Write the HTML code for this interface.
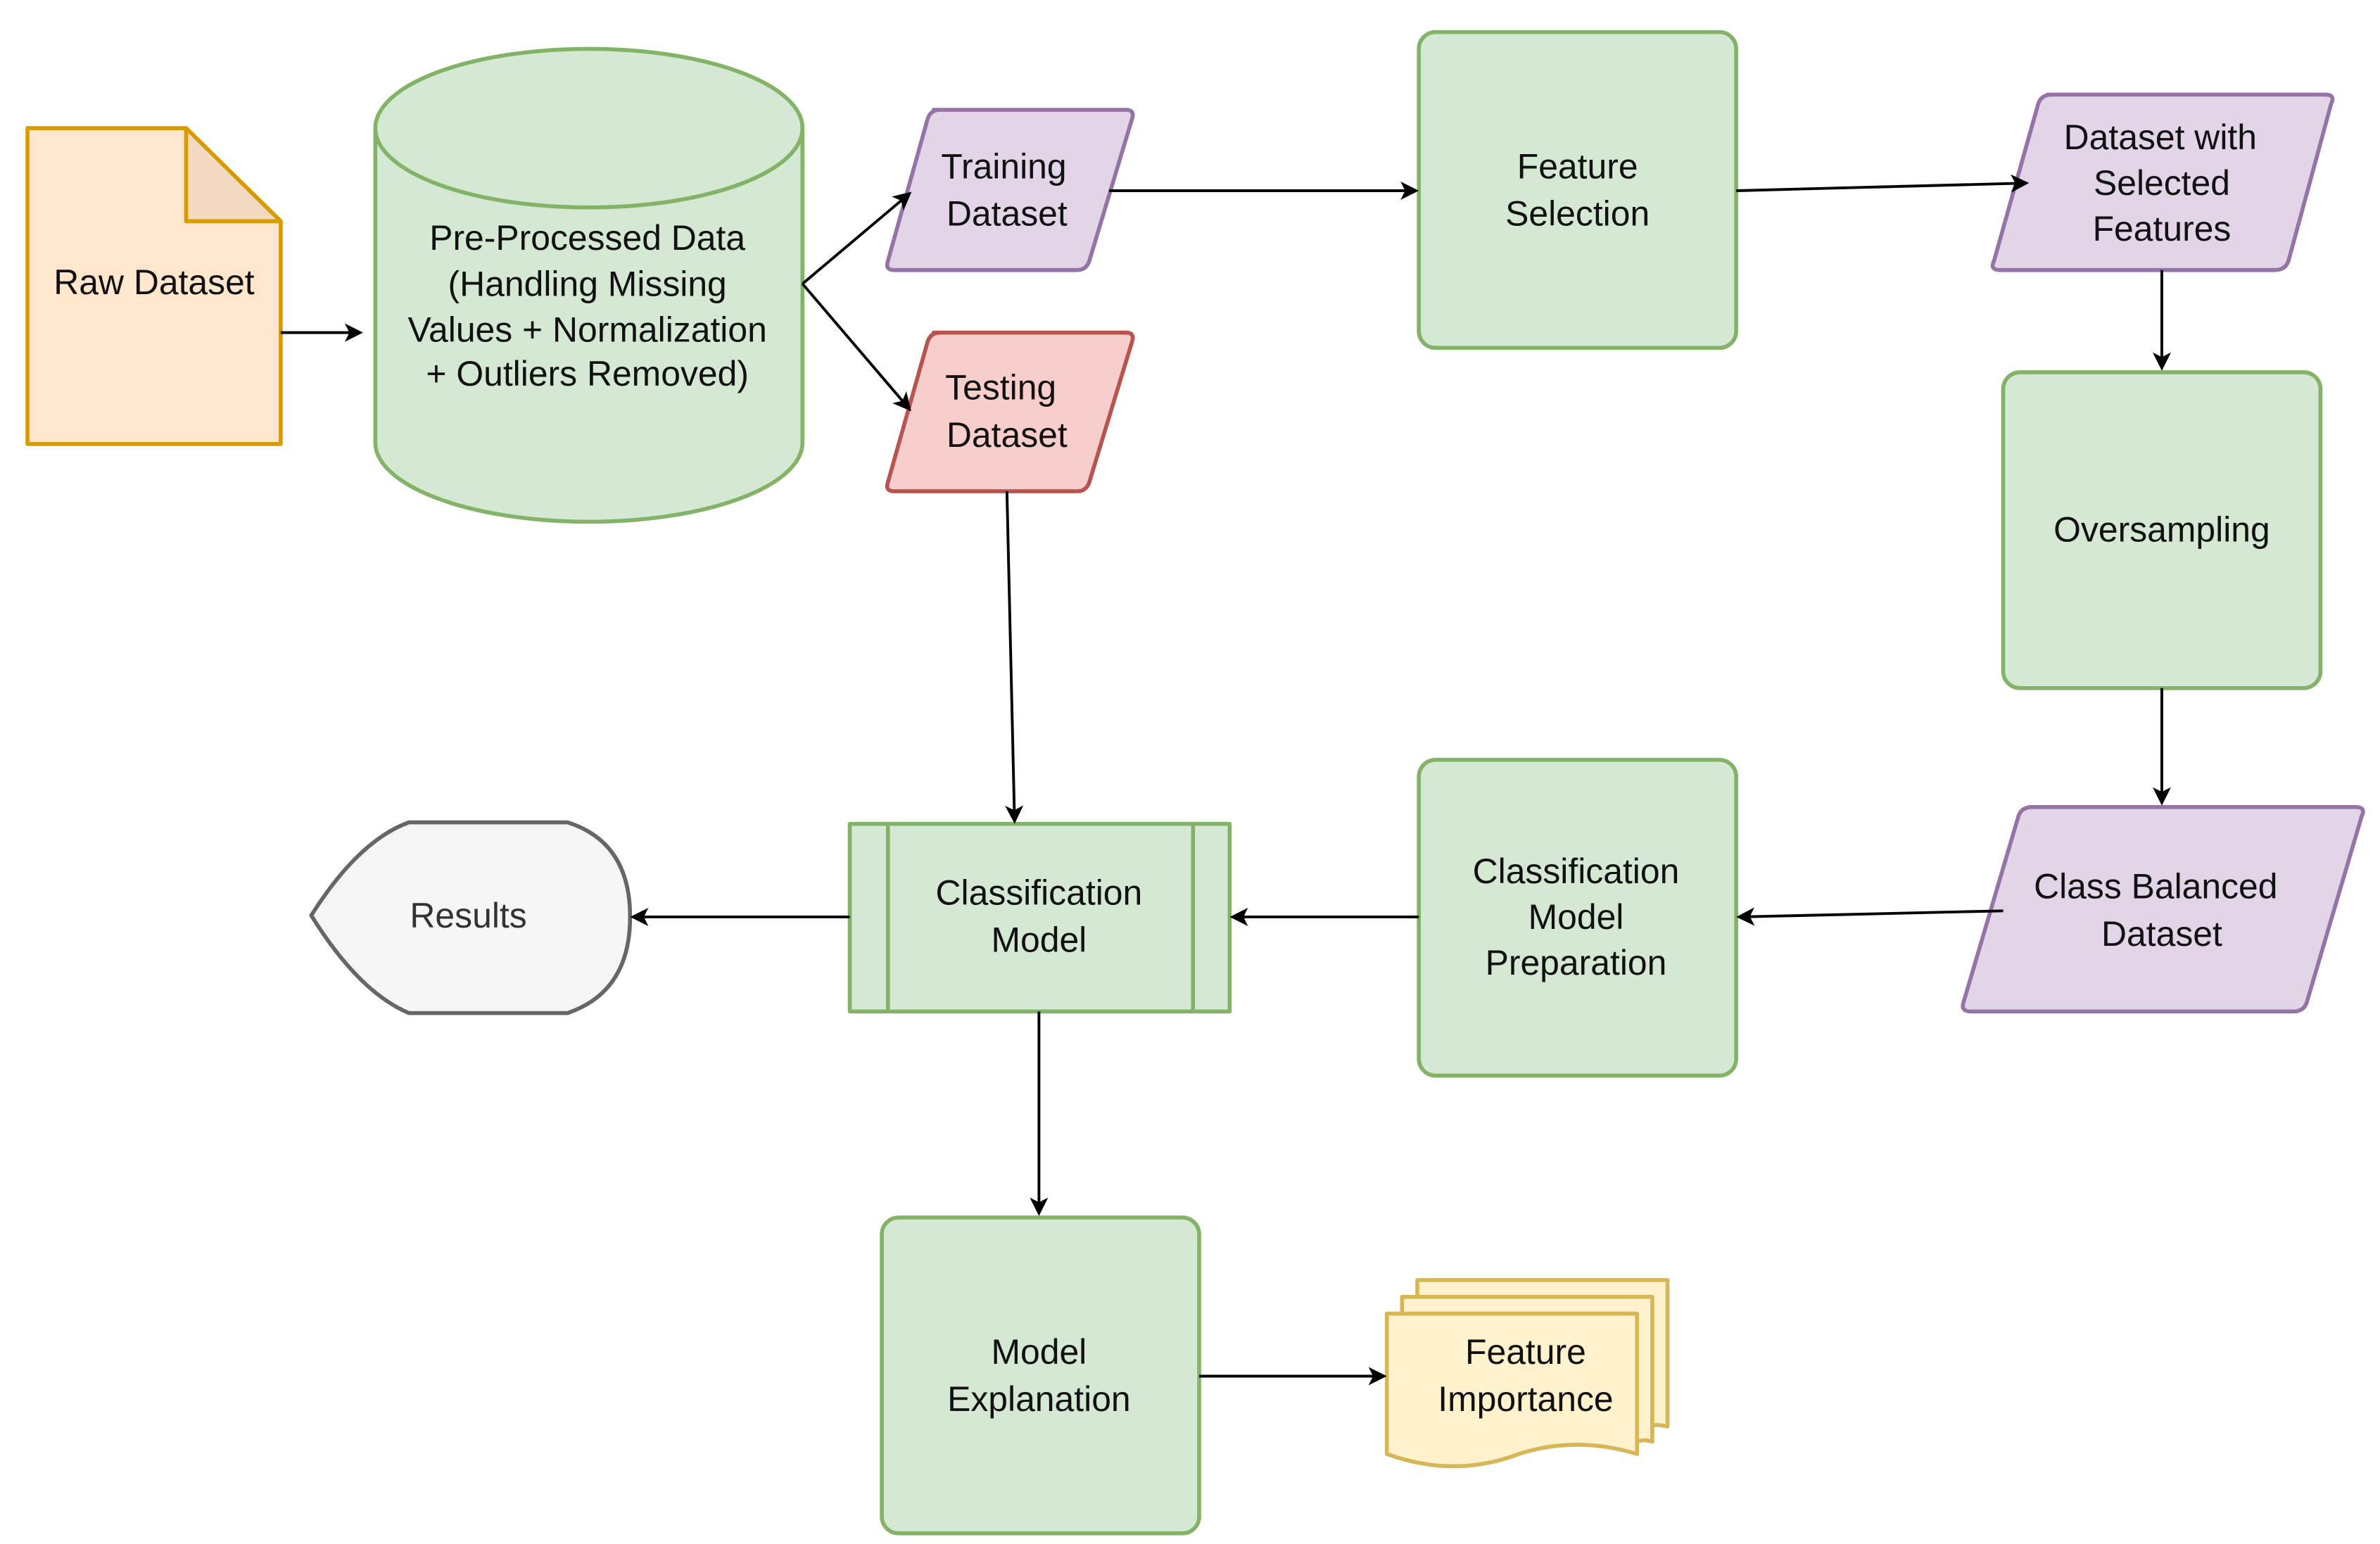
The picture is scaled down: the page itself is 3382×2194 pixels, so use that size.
<!DOCTYPE html>
<html><head><meta charset="utf-8">
<style>
html,body{margin:0;padding:0;background:#fff;}
svg{display:block;}
text{font-family:"Liberation Sans",Arial,sans-serif;font-size:23px;fill:#111;text-anchor:middle;dominant-baseline:central;}
</style></head>
<body>
<svg width="3382" height="2194" viewBox="0 0 1560 1012" xmlns="http://www.w3.org/2000/svg">
<defs>
<marker id="a" markerWidth="12" markerHeight="12" refX="10" refY="6" orient="auto" markerUnits="userSpaceOnUse">
<path d="M0,0 L12,6 L0,12 L3,6 Z" fill="#000"/>
</marker>
</defs>
<g stroke-width="2.6" stroke-linejoin="round">
<!-- Raw Dataset -->
<path d="M18,84 H122 L184,145 V291 H18 Z" fill="#ffe6cc" stroke="#d79b00"/>
<path d="M122,84 V145 H184 Z" fill="#f2d9c0" stroke="#d79b00"/>
<!-- Cylinder -->
<path d="M246,84 V290 A140,52 0 0 0 526,290 V84 A140,52 0 0 0 246,84 Z" fill="#d5e8d4" stroke="#82b366"/>
<path d="M246,84 A140,52 0 0 0 526,84" fill="none" stroke="#82b366"/>
<!-- Training -->
<path d="M612,72 H738 Q744,72 742,78 L714,171 Q712,177 706,177 H586 Q580,177 582,171 L608,78 Q610,72 616,72 Z" fill="#e1d5e7" stroke="#9673a6"/>
<!-- Testing -->
<path d="M612,218 H738 Q744,218 742,224 L714,316 Q712,322 706,322 H586 Q580,322 582,316 L608,224 Q610,218 616,218 Z" fill="#f8cecc" stroke="#b85450"/>
<!-- Feature Selection -->
<rect x="930" y="21" width="208" height="207" rx="11" fill="#d5e8d4" stroke="#82b366"/>
<!-- Dataset with selected features -->
<path d="M1342,62 H1524 Q1531,62 1528,68 L1500,171 Q1498,177 1491,177 H1311 Q1304,177 1307,171 L1336,68 Q1338,62 1345,62 Z" fill="#e1d5e7" stroke="#9673a6"/>
<!-- Oversampling -->
<rect x="1313" y="244" width="208" height="207" rx="11" fill="#d5e8d4" stroke="#82b366"/>
<!-- Class balanced -->
<path d="M1330,529 H1544 Q1551,529 1548,535 L1512,657 Q1510,663 1503,663 H1292 Q1285,663 1287,657 L1323,535 Q1325,529 1332,529 Z" fill="#e1d5e7" stroke="#9673a6"/>
<!-- Classification Model Preparation -->
<rect x="930" y="498" width="208" height="207" rx="11" fill="#d5e8d4" stroke="#82b366"/>
<!-- Classification Model process -->
<rect x="557" y="540" width="249" height="123" fill="#d5e8d4" stroke="#82b366"/>
<line x1="582" y1="540" x2="582" y2="663" stroke="#82b366"/>
<line x1="782" y1="540" x2="782" y2="663" stroke="#82b366"/>
<!-- Results -->
<path d="M204,600 Q235,551 268,539 H372 Q413,552 413,601 Q413,650 372,664 H268 Q235,650 204,600 Z" fill="#f5f5f5" stroke="#666"/>
<!-- Model Explanation -->
<rect x="578" y="798" width="208" height="207" rx="11" fill="#d5e8d4" stroke="#82b366"/>
<!-- Feature Importance -->
<path d="M929,839 H1093 V935 Q1085,933 1080,935 L929,935 Z" fill="#fff2cc" stroke="#d6b656"/>
<path d="M919,850 H1083 V945 Q1078,943 1073,945 L919,945 Z" fill="#fff2cc" stroke="#d6b656"/>
<path d="M909,861 H1073 V953 Q1030,940 990,955 Q950,968 909,953 Z" fill="#fff2cc" stroke="#d6b656"/>
</g>
<g stroke="#000" stroke-width="1.8" fill="none">
<line x1="184" y1="218" x2="236" y2="218" marker-end="url(#a)"/>
<line x1="526" y1="186" x2="596" y2="127" marker-end="url(#a)"/>
<line x1="526" y1="186" x2="596" y2="268" marker-end="url(#a)"/>
<line x1="727" y1="125" x2="928" y2="125" marker-end="url(#a)"/>
<line x1="1138" y1="125" x2="1328" y2="120" marker-end="url(#a)"/>
<line x1="1417" y1="177" x2="1417" y2="241" marker-end="url(#a)"/>
<line x1="1417" y1="451" x2="1417" y2="526" marker-end="url(#a)"/>
<line x1="1313" y1="597" x2="1140" y2="601" marker-end="url(#a)"/>
<line x1="930" y1="601" x2="808" y2="601" marker-end="url(#a)"/>
<line x1="557" y1="601" x2="415" y2="601" marker-end="url(#a)"/>
<line x1="660" y1="322" x2="665" y2="538" marker-end="url(#a)"/>
<line x1="681" y1="663" x2="681" y2="795" marker-end="url(#a)"/>
<line x1="786" y1="902" x2="907" y2="902" marker-end="url(#a)"/>
</g>
<text x="101" y="185">Raw Dataset</text>
<text x="385" y="156">Pre-Processed Data</text>
<text x="385" y="186">(Handling Missing</text>
<text x="385" y="216">Values + Normalization</text>
<text x="385" y="245">+ Outliers Removed)</text>
<text x="658" y="109">Training</text>
<text x="660" y="140">Dataset</text>
<text x="656" y="254">Testing</text>
<text x="660" y="285">Dataset</text>
<text x="1034" y="109">Feature</text>
<text x="1034" y="140">Selection</text>
<text x="1416" y="90">Dataset with</text>
<text x="1417" y="120">Selected</text>
<text x="1417" y="150">Features</text>
<text x="1417" y="347">Oversampling</text>
<text x="1413" y="581">Class Balanced</text>
<text x="1417" y="612">Dataset</text>
<text x="1033" y="571">Classification</text>
<text x="1033" y="601">Model</text>
<text x="1033" y="631">Preparation</text>
<text x="681" y="585">Classification</text>
<text x="681" y="616">Model</text>
<text x="307" y="600" style="fill:#333">Results</text>
<text x="681" y="886">Model</text>
<text x="681" y="917">Explanation</text>
<text x="1000" y="886">Feature</text>
<text x="1000" y="917">Importance</text>
</svg>
</body></html>
